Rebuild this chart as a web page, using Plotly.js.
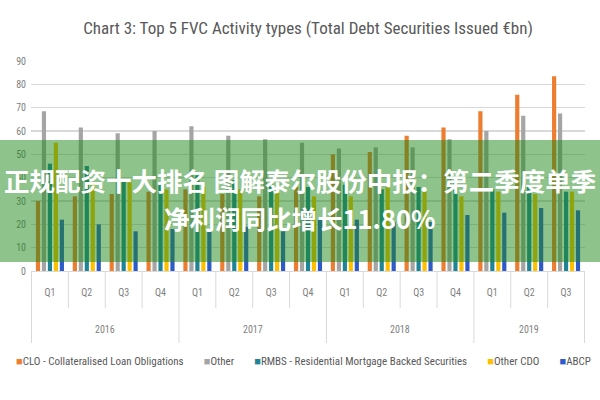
<!DOCTYPE html>
<html>
<head>
<meta charset="utf-8">
<script src="https://cdn.plot.ly/plotly-3.0.1.min.js"></script>
<style>html,body{margin:0;padding:0;background:#fff;}#chart{width:600px;height:400px;}</style>
</head>
<body>
<div id="chart"></div>
<script>
const years = ['2016','2016','2016','2016','2017','2017','2017','2017','2018','2018','2018','2018','2019','2019','2019'];
const quarters = ['Q1','Q2','Q3','Q4','Q1','Q2','Q3','Q4','Q1','Q2','Q3','Q4','Q1','Q2','Q3'];

const seriesNames = ['CLO - Collateralised Loan Obligations','Other','RMBS - Residential Mortgage Backed Securities','Other CDO','ABCP'];
const seriesColors = ['#ED7D31','#A5A5A5','#1E8496','#FFC000','#2E5BC8'];

const clo      = [30, 32, 33, 34, 35, 33, 32, 36, 50, 51, 58, 61.5, 68.5, 75.5, 83.5];
const other    = [68.5, 61.5, 59, 60, 62, 58, 56.5, 55, 52.5, 53, 53, 56.5, 60, 66.5, 67.5];
const rmbs     = [46, 45, 39, 37, 41, 39, 38, 36, 37, 35, 36, 38, 35, 37, 34];
const otherCdo = [55, 38, 38, 35, 36, 35, 34, 32, 32, 36, 34, 32, 34, 33, 34];
const abcp     = [22, 20, 17, 18, 17, 19, 17, 23, 22, 21, 21, 24, 25, 27, 26];

const values = [clo, other, rmbs, otherCdo, abcp];

const chartTitle = 'Chart 3: Top 5 FVC Activity types (Total Debt Securities Issued €bn)';
const bannerLine1 = '正规配资十大排名 图解泰尔股份中报：第二季度单季';
const bannerLine2 = '净利润同比增长11.80%';

const narrow = '"Liberation Sans Narrow", "Arial Narrow", "Roboto Condensed", Roboto, sans-serif';
const cjk = '"Noto Sans CJK SC", sans-serif';

// unique category ids built from the year/quarter arrays
const xIds = years.map((y, i) => y + ' ' + quarters[i]);

const traces = values.map((v, i) => ({
  type: 'bar',
  name: seriesNames[i],
  x: xIds,
  y: v,
  marker: {color: seriesColors[i]},
  showlegend: false,
  hoverinfo: 'y'
}));

// plot-area geometry helpers (pixels -> paper)
const plotTop = 61, plotBottom = 271, plotH = plotBottom - plotTop;
const pyP = px => (plotBottom - px) / plotH;

// category boundary dividers and year labels
const shapes = [];
const uniqYears = [...new Set(years)];
for (let i = 0; i <= years.length; i++) {
  const isYearEdge = i === 0 || i === years.length || years[i] !== years[i - 1];
  shapes.push({
    type: 'line', xref: 'x', yref: 'paper',
    x0: i - 0.5, x1: i - 0.5, y0: 0, y1: pyP(isYearEdge ? 343 : 308),
    line: {color: '#d9d9d9', width: 1}
  });
}
// translucent banner
shapes.push({
  type: 'rect', xref: 'paper', yref: 'paper', layer: 'above',
  x0: -0.1, x1: 1.1, y0: pyP(262), y1: pyP(140),
  fillcolor: 'rgba(30,135,25,0.5)', line: {width: 0}
});

const yearAnnots = uniqYears.map(yr => {
  const idx = years.map((y, i) => y === yr ? i : -1).filter(i => i >= 0);
  const mid = (idx[0] + idx[idx.length - 1]) / 2;
  return {
    text: yr, xref: 'x', yref: 'paper', x: mid, y: pyP(329),
    xanchor: 'center', yanchor: 'middle', showarrow: false,
    font: {family: narrow, size: 10, color: '#7f7f7f'}
  };
});

const legendText = seriesNames.map((n, i) =>
  '<span style="color:' + seriesColors[i] + '">■</span>' + n).join('        ');

const layout = {
  width: 600, height: 400,
  margin: {l: 31, r: 15, t: plotTop, b: 400 - plotBottom, pad: 0},
  paper_bgcolor: '#ffffff', plot_bgcolor: '#ffffff',
  barmode: 'group', bargap: 0.19, bargroupgap: 0.3,
  title: {
    text: chartTitle,
    x: 0.5, xref: 'paper', xanchor: 'center',
    y: 1 - 28/400, yref: 'container', yanchor: 'middle',
    font: {family: narrow, size: 17, color: '#595959'}
  },
  xaxis: {
    type: 'category',
    tickmode: 'array', tickvals: xIds, ticktext: quarters,
    showgrid: false, ticks: '',
    showline: true, linecolor: '#d9d9d9', linewidth: 1,
    tickfont: {family: narrow, size: 10, color: '#7f7f7f'},
    ticklabelstandoff: 12,
    fixedrange: true
  },
  yaxis: {
    range: [0, 90], dtick: 10, tick0: 0,
    showgrid: true, gridcolor: '#d9d9d9', gridwidth: 1.2,
    zeroline: false, showline: false, ticks: '',
    tickfont: {family: narrow, size: 10, color: '#7f7f7f'},
    ticklabelstandoff: 4,
    fixedrange: true
  },
  shapes: shapes,
  annotations: [
    {
      text: bannerLine1, xref: 'paper', yref: 'paper',
      x: (300 - 31) / 554, y: pyP(179), xanchor: 'center', yanchor: 'middle',
      showarrow: false,
      font: {family: cjk, size: 25.5, color: '#ffffff', weight: 'bold'}
    },
    {
      text: bannerLine2, xref: 'paper', yref: 'paper',
      x: (300 - 31) / 554, y: pyP(217), xanchor: 'center', yanchor: 'middle',
      showarrow: false,
      font: {family: cjk, size: 25.5, color: '#ffffff', weight: 'bold'}
    },
    {
      text: legendText, xref: 'paper', yref: 'paper',
      x: (303 - 31) / 554, y: pyP(361), xanchor: 'center', yanchor: 'middle',
      showarrow: false,
      font: {family: narrow, size: 11, color: '#595959'}
    }
  ].concat(yearAnnots)
};

Plotly.newPlot('chart', traces, layout, {staticPlot: true, displayModeBar: false});
</script>
</body>
</html>
